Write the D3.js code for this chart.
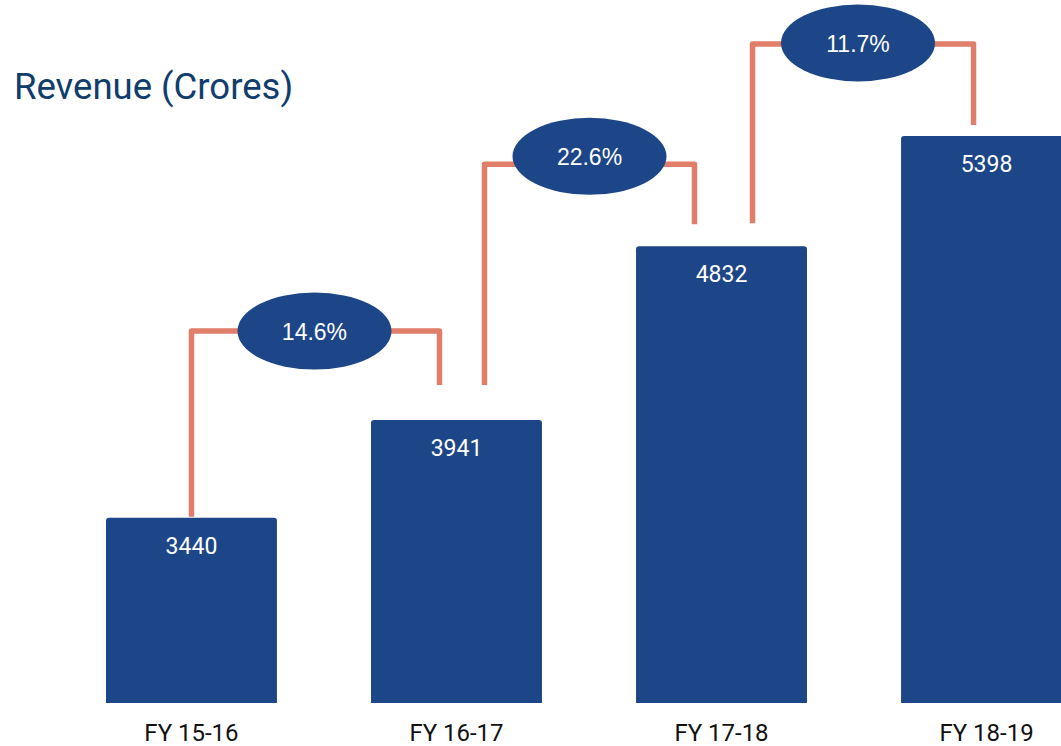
<!DOCTYPE html>
<html>
<head>
<meta charset="utf-8">
<script src="https://cdn.jsdelivr.net/npm/d3@7"></script>
<style>
  html, body { margin: 0; padding: 0; background: #fff; }
  svg { display: block; font-family: Roboto, "Noto Sans", sans-serif; }
</style>
</head>
<body>
<svg id="chart" width="1061" height="746"></svg>
<script>
// chart data
const years = ["FY 15-16", "FY 16-17", "FY 17-18", "FY 18-19"];
const revenue = [3440, 3941, 4832, 5398];
const growthLabels = ["14.6%", "22.6%", "11.7%"];

// annotation layout for the growth connectors (px, relative to the bars)
const linkLift = [89, 82, 92];                         // line height above the taller bar
const linkInset = [[0, -17], [28, -27], [31, -13]];    // x offset from bar centres
const linkGap = [[1, 35], [35, 22], [23, 11]];         // gap left above each bar top
const bubbleShift = [[-1, 0], [0, -8], [-5, -1]];

const svg = d3.select('#chart');

const barColor = '#1d4688';
const lineColor = '#e07e69';

// x scale: bars 171px wide, 265px apart, last one runs off the right edge
const x = d3.scaleBand()
  .domain(years)
  .range([106, 1072])
  .paddingInner(0.355)
  .paddingOuter(0);

const y = d3.scaleLinear()
  .domain([2490, 5398])
  .range([703, 136]);

// title
svg.append('text')
  .attr('x', 14)
  .attr('y', 99)
  .attr('font-size', '36.5px')
  .attr('fill', '#0f3d6c')
  .text('Revenue (Crores)');

// bars with slightly rounded top corners
const r = 3;
svg.selectAll('.bar')
  .data(revenue)
  .enter()
  .append('path')
  .attr('class', 'bar')
  .attr('fill', barColor)
  .attr('d', (d, i) => {
    const x0 = x(years[i]);
    const x1 = x0 + x.bandwidth();
    const y0 = y(d);
    const yb = y.range()[0];
    return `M${x0},${yb}V${y0 + r}Q${x0},${y0} ${x0 + r},${y0}H${x1 - r}Q${x1},${y0} ${x1},${y0 + r}V${yb}Z`;
  });

// value labels inside the bars
svg.selectAll('.val')
  .data(revenue)
  .enter()
  .append('text')
  .attr('class', 'val')
  .attr('x', (d, i) => x(years[i]) + x.bandwidth() / 2)
  .attr('y', d => y(d) + 36)
  .attr('text-anchor', 'middle')
  .attr('font-size', '23px')
  .attr('fill', '#fff')
  .text(d => d);

// category labels
svg.selectAll('.cat')
  .data(years)
  .enter()
  .append('text')
  .attr('class', 'cat')
  .attr('x', d => x(d) + x.bandwidth() / 2)
  .attr('y', 741)
  .attr('text-anchor', 'middle')
  .attr('font-size', '24px')
  .attr('fill', '#111')
  .text(d => d);

// growth connectors between neighbouring bars
const cx = i => x(years[i]) + x.bandwidth() / 2;

growthLabels.forEach((label, i) => {
  const lx = cx(i) + linkInset[i][0];
  const rx = cx(i + 1) + linkInset[i][1];
  const ly = y(revenue[i + 1]) - linkLift[i];
  const leftEnd = y(revenue[i]) - linkGap[i][0];
  const rightEnd = y(revenue[i + 1]) - linkGap[i][1];

  svg.append('path')
    .attr('d', `M${lx},${leftEnd}V${ly}H${rx}V${rightEnd}`)
    .attr('fill', 'none')
    .attr('stroke', lineColor)
    .attr('stroke-width', 5.5)
    .attr('stroke-linejoin', 'round');

  const bx = (lx + rx) / 2 + bubbleShift[i][0];
  const by = ly + bubbleShift[i][1];

  svg.append('ellipse')
    .attr('cx', bx)
    .attr('cy', by)
    .attr('rx', 77)
    .attr('ry', 38.5)
    .attr('fill', barColor);

  svg.append('text')
    .attr('x', bx)
    .attr('y', by + 9)
    .attr('text-anchor', 'middle')
    .attr('font-family', '"Liberation Sans", Arial, sans-serif')
    .attr('font-size', '23px')
    .attr('fill', '#fff')
    .text(label);
});
</script>
</body>
</html>
